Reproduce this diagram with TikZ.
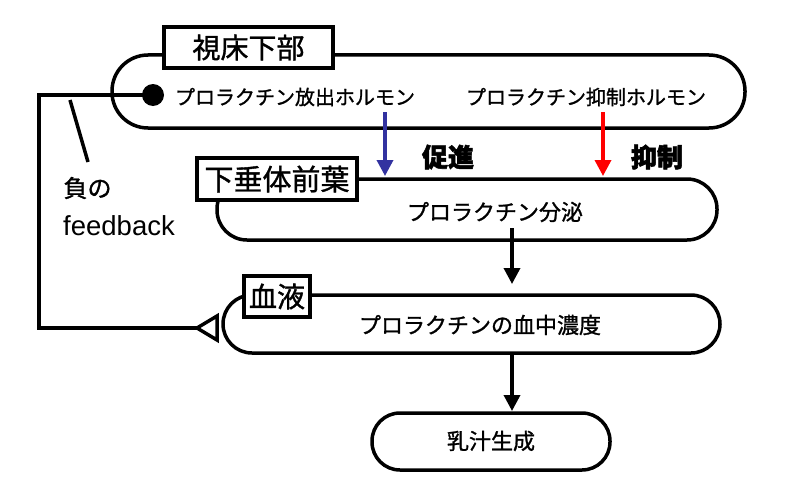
\documentclass[tikz,border=0pt]{standalone}
\usepackage{fontspec}
\setmainfont{Liberation Sans}
\newfontfamily\cjk{Noto Sans CJK JP}[FakeBold=1.2]
\newfontfamily\cjkb{Noto Sans CJK JP}[FakeBold=2]
\usetikzlibrary{arrows.meta}
\begin{document}
\begin{tikzpicture}[x=1pt,y=-1pt,
  pill/.style={draw,line width=3.5pt},
  lab/.style={draw,fill=white,line width=3.5pt,inner sep=1pt},
  txt/.style={font=\cjk\fontsize{22}{22}\selectfont},
  small/.style={font=\cjk\fontsize{20}{20}\selectfont},
  arr/.style={line width=3.5pt,-{Triangle[length=16pt,width=16pt]}}]
\useasboundingbox (0,0) rectangle (800,503);
% boxes
\draw[pill,rounded corners=36] (112,55) rectangle (745,128);
\draw[pill,rounded corners=30] (217,179) rectangle (717,240);
\draw[pill,rounded corners=29] (223,295) rectangle (720,353);
\draw[pill,rounded corners=28] (372,413) rectangle (610,470);
% labels
\node[lab,minimum width=169,minimum height=41,font=\cjk\fontsize{28}{28}\selectfont] (hyp) at (248.5,47.5) {視床下部};
\node[lab,minimum width=160,minimum height=42,font=\cjk\fontsize{29}{29}\selectfont] (pit) at (277,179) {下垂体前葉};
\node[lab,minimum width=66,minimum height=41,font=\cjk\fontsize{28}{28}\selectfont] (blood) at (277,296.5) {血液};
% texts
\node[small] (rel) at (295,97) {プロラクチン放出ホルモン};
\node[small] (inh) at (586,97) {プロラクチン抑制ホルモン};
\node[txt] (sec) at (495,212) {プロラクチン分泌};
\node[txt] (conc) at (480,325) {プロラクチンの血中濃度};
\node[txt] (milk) at (491,441) {乳汁生成};
\node[font=\cjkb\bfseries\fontsize{26}{26}\selectfont] (pro) at (448,157) {促進};
\node[font=\cjkb\bfseries\fontsize{26}{26}\selectfont] (sup) at (657,157) {抑制};
\node[font=\cjk\fontsize{24}{24}\selectfont,anchor=west] (neg) at (60,188) {負の};
\node[font=\fontsize{27.5}{27.5}\selectfont,anchor=west,inner sep=1pt] (fb) at (62,226) {feedback};
% arrows
\coordinate (b1) at (385,112); \coordinate (b2) at (385,176);
\draw[arr,draw={rgb,255:red,50;green,50;blue,160},fill={rgb,255:red,50;green,50;blue,160}] (b1) -- (b2);
\coordinate (r1) at (603,112); \coordinate (r2) at (603,176);
\draw[arr,draw=red,fill=red] (r1) -- (r2);
\coordinate (k1) at (512,228); \coordinate (k2) at (512,284);
\draw[arr] (k1) -- (k2);
\coordinate (k3) at (512,355); \coordinate (k4) at (512,411);
\draw[arr] (k3) -- (k4);
% feedback loop
\coordinate (dot) at (153,95);
\coordinate (c1) at (39,95); \coordinate (c2) at (39,328);
\coordinate (tip) at (197,328);
\draw[line width=3.5pt] (tip) -- (c2) -- (c1) -- (dot);
\fill (dot) circle (11);
\draw[line width=3.5pt,fill=white,line join=miter] (197,328) -- (217,316) -- (217,340) -- cycle;
\coordinate (s1) at (70,100); \coordinate (s2) at (88,162);
\draw[line width=3.5pt] (s1) -- (s2);
\end{tikzpicture}
\end{document}
